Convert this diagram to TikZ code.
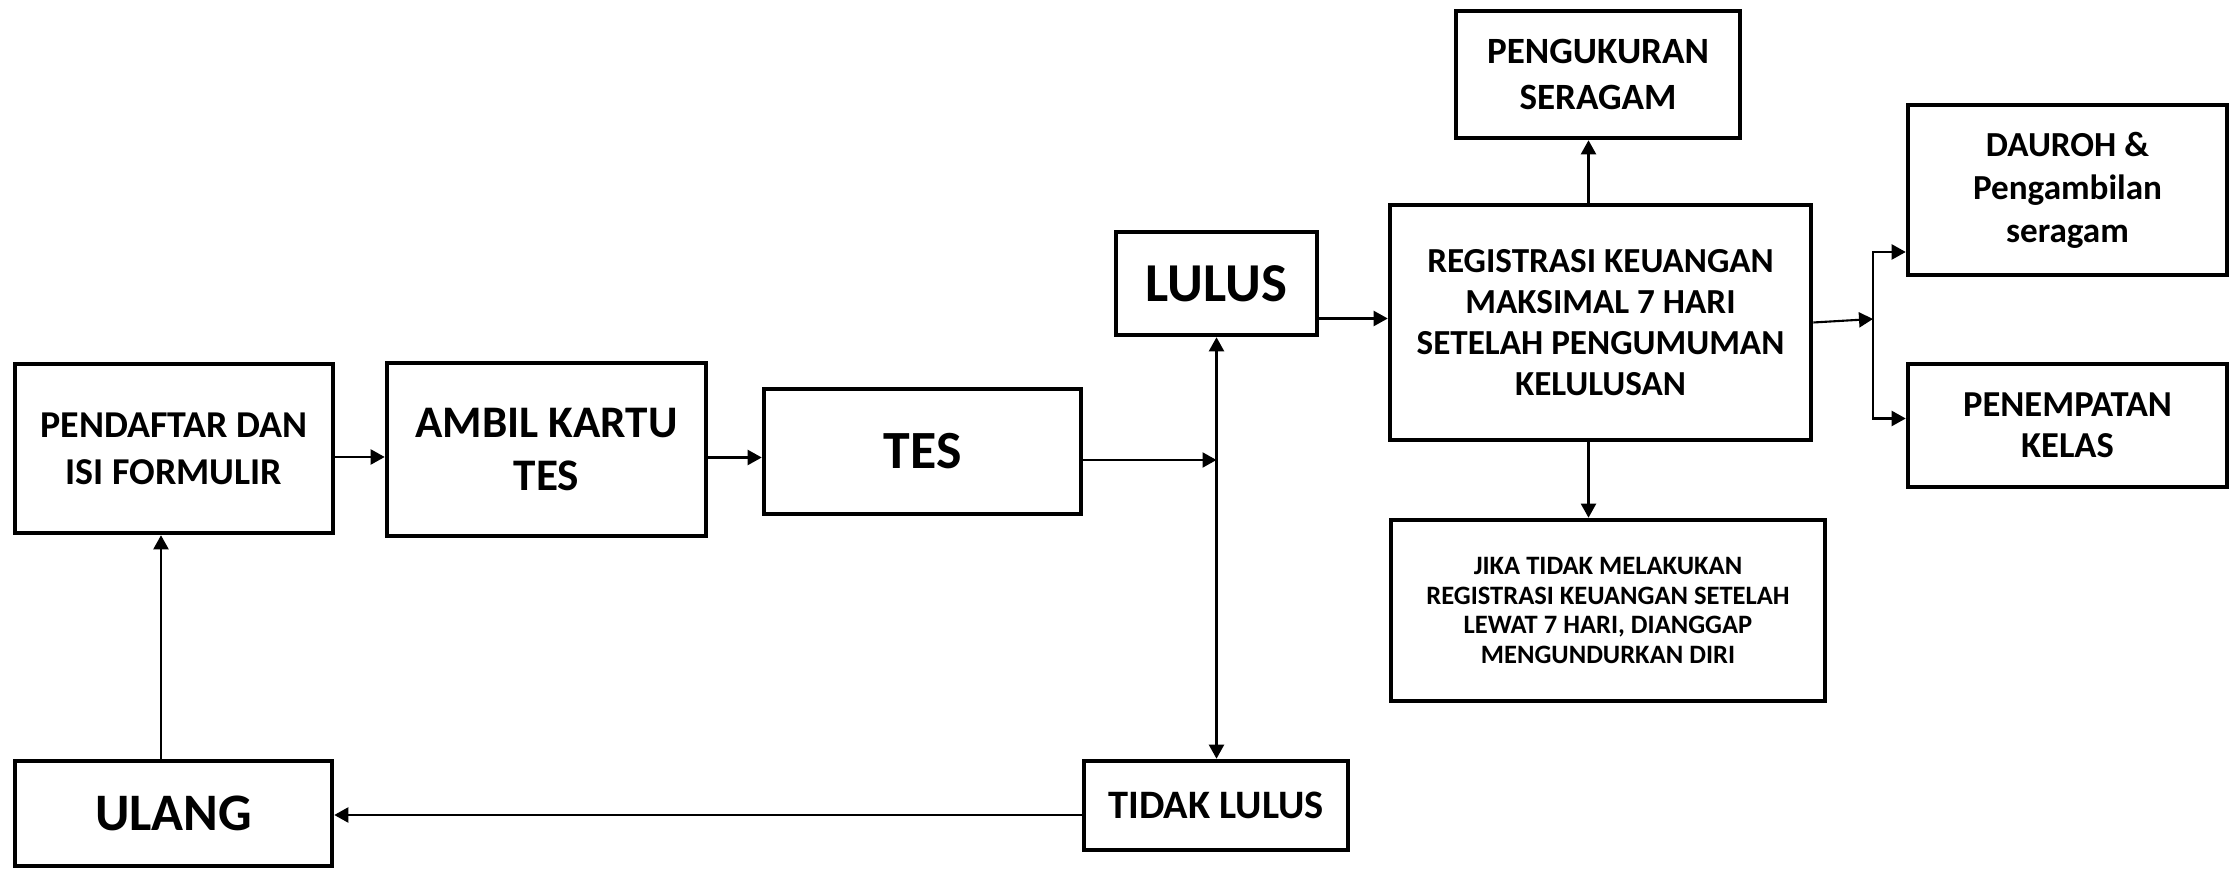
\documentclass[tikz,border=0pt]{standalone}
\usepackage{fontspec}
\setmainfont{Carlito}
\usepackage{tikz}
\usetikzlibrary{arrows.meta}

\begin{document}
\begin{tikzpicture}[kotak/.style={draw, line width=1.3pt, align=center, inner sep=0pt},
panah/.style={-{Triangle[length=0.14cm,width=0.15cm]}, line width=0.6pt}]
\useasboundingbox (0,0) rectangle (22.37,8.69);
% alur utama
\node[kotak] (daftar) at (1.74,4.205) [minimum width=3.18cm, minimum height=1.69cm, font=\bfseries\fontsize{10.8}{13.4}\selectfont] {PENDAFTAR DAN\\ISI FORMULIR};
\node[kotak] (kartu) at (5.465,4.195) [minimum width=3.19cm, minimum height=1.73cm, font=\bfseries\fontsize{12.85}{15}\selectfont] {AMBIL KARTU\\TES};
\node[kotak] (tes) at (9.225,4.175) [minimum width=3.17cm, minimum height=1.25cm, font=\bfseries\fontsize{15.3}{18}\selectfont] {TES};
\node[kotak] (lulus) at (12.165,5.855) [minimum width=2.01cm, minimum height=1.03cm, font=\bfseries\fontsize{15.6}{18}\selectfont] {LULUS};
\node[kotak] (tidak) at (12.16,0.635) [minimum width=2.64cm, minimum height=0.89cm, font=\bfseries\fontsize{11.5}{13}\selectfont] {TIDAK LULUS};
\node[kotak] (ulang) at (1.735,0.555) [minimum width=3.17cm, minimum height=1.05cm, font=\bfseries\fontsize{15}{18}\selectfont] {ULANG};
% setelah lulus
\node[kotak] (regis) at (16.005,5.465) [minimum width=4.21cm, minimum height=2.35cm, font=\bfseries\fontsize{10}{11.6}\selectfont] {REGISTRASI KEUANGAN\\MAKSIMAL 7 HARI\\SETELAH PENGUMUMAN\\KELULUSAN};
\node[kotak] (ukur) at (15.98,7.945) [minimum width=2.84cm, minimum height=1.27cm, font=\bfseries\fontsize{10.55}{13}\selectfont] {PENGUKURAN\\SERAGAM};
\node[kotak] (jika) at (16.08,2.585) [minimum width=4.34cm, minimum height=1.81cm, font=\bfseries\fontsize{7.55}{8.45}\selectfont] {JIKA TIDAK MELAKUKAN\\REGISTRASI KEUANGAN SETELAH\\LEWAT 7 HARI, DIANGGAP\\MENGUNDURKAN DIRI};
\node[kotak] (dauroh) at (20.675,6.79) [minimum width=3.19cm, minimum height=1.70cm, font=\bfseries\fontsize{10}{12.2}\selectfont] {DAUROH \&\\Pengambilan\\seragam};
\node[kotak] (tempat) at (20.675,4.435) [minimum width=3.19cm, minimum height=1.23cm, font=\bfseries\fontsize{10.4}{11.7}\selectfont] {PENEMPATAN\\KELAS};
\coordinate (cabang) at (18.73,5.5);
% panah
\draw[panah] ([yshift=-0.085cm]daftar.east) -- ([yshift=-0.085cm]daftar.east -| kartu.west);
\draw[panah] ([yshift=-0.08cm]kartu.east) -- ([yshift=-0.08cm]kartu.east -| tes.west);
\draw[panah] ([yshift=-0.085cm]tes.east) -- ([yshift=-0.085cm]tes.east -| lulus.south);
\draw[{Triangle[length=0.14cm,width=0.15cm]}-{Triangle[length=0.14cm,width=0.15cm]}, line width=0.6pt] (lulus.south) -- (lulus.south |- tidak.north);
\draw[panah] ([yshift=-0.095cm]tidak.west) -- ([yshift=-0.095cm]tidak.west -| ulang.east);
\draw[panah] ([xshift=-0.125cm]ulang.north) -- ([xshift=-0.125cm]ulang.north |- daftar.south);
\draw[panah] ([yshift=-0.35cm]lulus.east) -- ([yshift=-0.35cm]lulus.east -| regis.west);
\draw[panah] ([xshift=-0.12cm]regis.north) -- ([xshift=-0.12cm]regis.north |- ukur.south);
\draw[panah] ([xshift=-0.12cm]regis.south) -- ([xshift=-0.12cm]regis.south |- jika.north);
\draw[panah] (regis.east) -- (cabang);
\draw[panah] (cabang) |- ([yshift=-0.62cm]dauroh.west);
\draw[panah] (cabang) |- ([yshift=0.07cm]tempat.west);
\end{tikzpicture}
\end{document}
